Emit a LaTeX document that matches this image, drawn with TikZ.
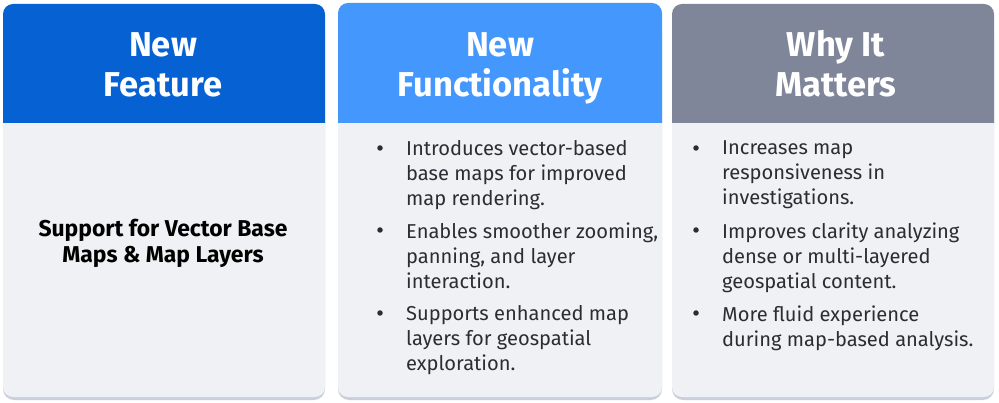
\documentclass[tikz,border=0pt]{standalone}
\usepackage{fontspec}
\setmainfont{Fira Sans}
\definecolor{featblue}{HTML}{0662D3}
\definecolor{funcblue}{HTML}{4497FD}
\definecolor{whygray}{HTML}{7F8699}
\definecolor{cardbg}{HTML}{F0F1F4}
\definecolor{cardrim}{HTML}{C9D0DC}
\definecolor{ink}{HTML}{2A2D33}
\begin{document}
\begin{tikzpicture}[x=1pt,y=-1pt]
	\tikzstyle{rim} = [fill=cardrim, rounded corners=11pt];
	\tikzstyle{body} = [fill=cardbg, rounded corners=10pt];
	\tikzstyle{head} = [text=white, align=center, font={\fontsize{34.5}{40}\selectfont\bfseries}];
	\tikzstyle{lead} = [text=black, align=center, font={\fontsize{22.9}{26}\selectfont\bfseries}];
	\tikzstyle{item} = [text=ink, align=left, anchor=north west, inner sep=0pt, font={\fontsize{20.1}{25}\selectfont}];
	\tikzstyle{dot} = [circle, fill=ink, inner sep=0pt, minimum size=5.5pt];

	\useasboundingbox (0,0) rectangle (999,403);

	% three cards
	\foreach \l/\r/\t/\c in {3/325/4/featblue, 338/662/3/funcblue, 672/994/4/whygray} {
		\fill[rim] (\l,\t+20) rectangle (\r,400);
		\fill[body] (\l,\t+20) rectangle (\r,397);
		\fill[\c] (\l,123) [rounded corners=10pt] -- (\l,\t) -- (\r,\t) [sharp corners] -- (\r,123) -- cycle;
	}

	\node[head] (feature) at (163,65) {New\\Feature};
	\node[head] (function) at (500,68) {New\\Functionality};
	\node[head] (matters) at (836,63.5) {Why It\\Matters};

	\node[lead] (support) at (163,243.5) {Support for Vector Base\\Maps \& Map Layers};

	\node[item] (f1) at (406,140.5) {Introduces vector-based\\base maps for improved\\map rendering.};
	\node[item] (f2) at (406,222.5) {Enables smoother zooming,\\panning, and layer\\interaction.};
	\node[item] (f3) at (406,305.5) {Supports enhanced map\\layers for geospatial\\exploration.};

	\node[item] (w1) at (722,140.5) {Increases map\\responsiveness in\\investigations.};
	\node[item] (w2) at (722,222.5) {Improves clarity analyzing\\dense or multi-layered\\geospatial content.};
	\node[item] (w3) at (722,305.5) {More fluid experience\\during map-based analysis.};

	\foreach \y in {148,230,313} {
		\node[dot] (fd\y) at (380,\y) {};
		\node[dot] (wd\y) at (696,\y) {};
	}
\end{tikzpicture}
\end{document}
